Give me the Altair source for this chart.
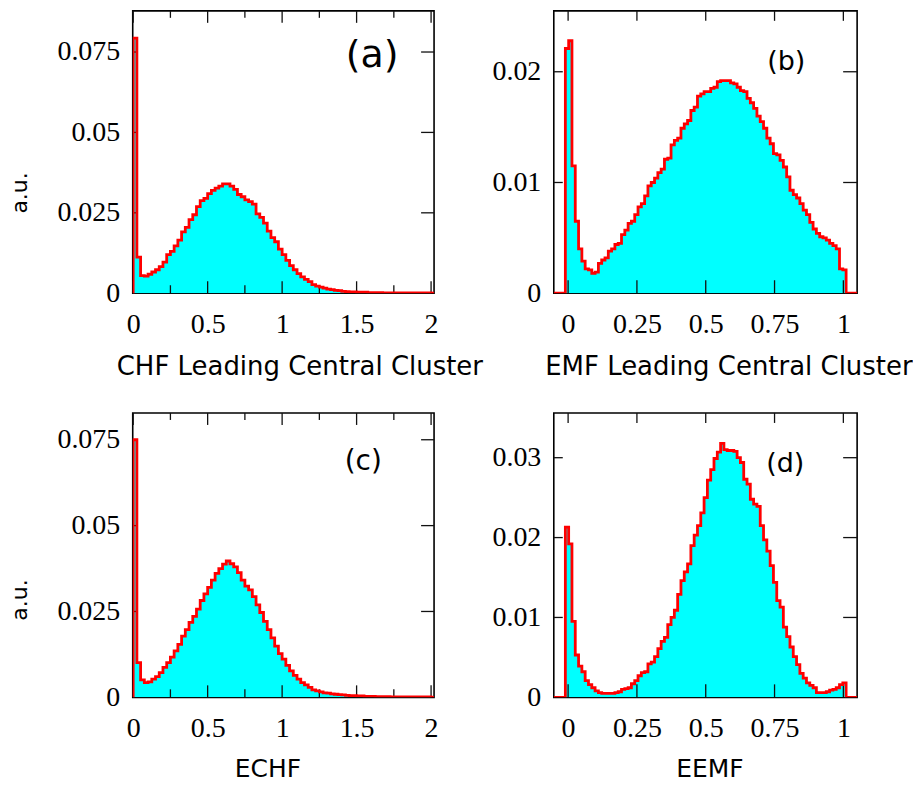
import altair as alt
import pandas as pd

# ---------------- data ----------------
# (a) CHF leading central cluster: 80 bins of 0.025 starting at 0
A_VALUES = [0.0793, 0.0112, 0.0055, 0.0053, 0.0059, 0.0066, 0.0073, 0.0083, 0.0097, 0.0120,
            0.0130, 0.0147, 0.0165, 0.0191, 0.0205, 0.0229, 0.0244, 0.0269, 0.0288, 0.0295,
            0.0310, 0.0320, 0.0327, 0.0333, 0.0340, 0.0340, 0.0333, 0.0323, 0.0307, 0.0300,
            0.0290, 0.0285, 0.0277, 0.0247, 0.0236, 0.0218, 0.0193, 0.0173, 0.0160, 0.0137,
            0.0120, 0.0102, 0.0086, 0.0073, 0.0061, 0.0051, 0.0043, 0.0036, 0.0027, 0.0022,
            0.0019, 0.0016, 0.0013, 0.0011, 0.0009, 0.0008, 0.0006, 0.0005, 0.0004, 0.0004,
            0.0003, 0.0003, 0.0003, 0.0002, 0.0002, 0.0002, 0.0002, 0.0001, 0.0001, 0.0001,
            0.0001, 0.0001, 0.0001, 0.0001, 0.0001, 0.0001, 0.0001, 0.0001, 0.0001, 0.0001]
# (b) EMF leading central cluster: 85 bins of 0.012 starting at -0.01
B_VALUES = [0.0221, 0.0228, 0.0115, 0.0065, 0.0040, 0.0029, 0.0022, 0.0021, 0.0018, 0.0019,
            0.0027, 0.0030, 0.0032, 0.0038, 0.0040, 0.0044, 0.0045, 0.0053, 0.0057, 0.0063,
            0.0065, 0.0071, 0.0078, 0.0081, 0.0088, 0.0097, 0.0100, 0.0104, 0.0109, 0.0112,
            0.0121, 0.0122, 0.0134, 0.0138, 0.0140, 0.0149, 0.0153, 0.0156, 0.0165, 0.0168,
            0.0178, 0.0180, 0.0182, 0.0182, 0.0185, 0.0186, 0.0191, 0.0192, 0.0192, 0.0192,
            0.0190, 0.0189, 0.0186, 0.0183, 0.0182, 0.0176, 0.0172, 0.0167, 0.0160, 0.0155,
            0.0149, 0.0140, 0.0135, 0.0126, 0.0125, 0.0120, 0.0114, 0.0105, 0.0093, 0.0089,
            0.0086, 0.0081, 0.0075, 0.0071, 0.0064, 0.0058, 0.0054, 0.0051, 0.0050, 0.0048,
            0.0045, 0.0043, 0.0040, 0.0022, 0.0021]
# (c) ECHF: 80 bins of 0.025 starting at 0
C_VALUES = [0.0750, 0.0101, 0.0051, 0.0043, 0.0045, 0.0053, 0.0060, 0.0072, 0.0087, 0.0101,
            0.0117, 0.0135, 0.0154, 0.0178, 0.0197, 0.0218, 0.0236, 0.0257, 0.0282, 0.0301,
            0.0320, 0.0341, 0.0361, 0.0375, 0.0388, 0.0397, 0.0389, 0.0380, 0.0363, 0.0341,
            0.0324, 0.0313, 0.0293, 0.0269, 0.0247, 0.0221, 0.0197, 0.0173, 0.0149, 0.0127,
            0.0111, 0.0093, 0.0077, 0.0064, 0.0053, 0.0043, 0.0036, 0.0029, 0.0022, 0.0019,
            0.0016, 0.0013, 0.0012, 0.0010, 0.0009, 0.0008, 0.0007, 0.0006, 0.0005, 0.0005,
            0.0004, 0.0004, 0.0003, 0.0003, 0.0003, 0.0002, 0.0002, 0.0002, 0.0002, 0.0001,
            0.0001, 0.0001, 0.0001, 0.0001, 0.0001, 0.0001, 0.0001, 0.0001, 0.0001, 0.0001]
# (d) EEMF: 85 bins of 0.012 starting at -0.01
D_VALUES = [0.0213, 0.0192, 0.0095, 0.0053, 0.0039, 0.0032, 0.0021, 0.0016, 0.0012, 0.0008,
            0.0006, 0.0005, 0.0005, 0.0005, 0.0005, 0.0006, 0.0007, 0.0010, 0.0011, 0.0012,
            0.0017, 0.0021, 0.0027, 0.0031, 0.0032, 0.0042, 0.0044, 0.0051, 0.0061, 0.0070,
            0.0075, 0.0091, 0.0100, 0.0109, 0.0129, 0.0146, 0.0157, 0.0167, 0.0190, 0.0203,
            0.0215, 0.0231, 0.0250, 0.0272, 0.0285, 0.0299, 0.0307, 0.0318, 0.0310, 0.0309,
            0.0309, 0.0308, 0.0300, 0.0294, 0.0273, 0.0267, 0.0248, 0.0242, 0.0239, 0.0215,
            0.0197, 0.0183, 0.0165, 0.0144, 0.0121, 0.0113, 0.0088, 0.0076, 0.0063, 0.0051,
            0.0041, 0.0030, 0.0024, 0.0018, 0.0015, 0.0012, 0.0006, 0.0006, 0.0006, 0.0007,
            0.0009, 0.0010, 0.0012, 0.0016, 0.0018]

BINS_AC = (0.0, 0.025)      # start, width
BINS_BD = (-0.01, 0.012)

X_TICKS_AC_MAJOR = [0, 0.5, 1, 1.5, 2]
X_TICKS_AC_MINOR = [0.25, 0.75, 1.25, 1.75]
X_TICKS_BD = [0, 0.25, 0.5, 0.75, 1]
Y_TICKS_A = [0.025, 0.05, 0.075]
Y_TICKS_B = [0.01, 0.02]
Y_TICKS_C = [0.025, 0.05, 0.075]
Y_TICKS_D = [0.01, 0.02, 0.03]

TITLES = ["CHF Leading Central Cluster", "EMF Leading Central Cluster", "ECHF", "EEMF"]
PANEL_LABELS = ["(a)", "(b)", "(c)", "(d)"]
Y_TITLE = "a.u."

SERIF = "Liberation Serif"
SANS = "DejaVu Sans"


def step_frame(values, start, width, xmin, xmax):
    xs = [xmin] + [start + width * i for i in range(len(values) + 1)] + [xmax]
    ys = [0.0] + list(values) + [0.0, 0.0]
    return pd.DataFrame({"x": xs, "y": ys})


def panel(values, bins, xdom, ydom, xmaj, xmin_ticks, yticks, W, H,
          xtitle, title_x, title_y, title_size, ytitle, ytitle_y, label, label_xy, label_size,
          left_len, right_len, bot_len, top_len, min_bot, min_top):
    xs = alt.Scale(domain=xdom, nice=False, zero=False)
    ys = alt.Scale(domain=ydom, nice=False, zero=False)
    df = step_frame(values, bins[0], bins[1], xdom[0], xdom[1])
    base = alt.Chart(df)
    xaxis = alt.Axis(values=xmaj, format=".3~g", ticks=False, domain=False, grid=False,
                     labelFont=SERIF, labelFontSize=28, labelColor="black",
                     labelPadding=17, labelFlush=False, labelOverlap=False,
                     title=xtitle, titleFont=SANS, titleFontSize=title_size, titleFontWeight="normal",
                     titleColor="black", titleX=title_x, titleY=title_y,
                     titleAlign="center", titleBaseline="middle")
    yargs = dict(values=[0] + yticks, format=".3~g", ticks=False, domain=False, grid=False,
                 labelFont=SERIF, labelFontSize=28, labelColor="black",
                 labelPadding=13, labelFlush=False, labelOverlap=False,
                 labelBaseline="middle")
    if ytitle:
        yargs.update(title=ytitle, titleFont=SANS, titleFontSize=22, titleFontWeight="normal",
                     titleColor="black", titleX=-113, titleY=ytitle_y, titleAngle=270,
                     titleAlign="center", titleBaseline="middle")
    else:
        yargs.update(title="")
    yaxis = alt.Axis(**yargs)

    area = base.mark_area(interpolate="step-after", color="#00FFFF", opacity=1, clip=True).encode(
        x=alt.X("x:Q", scale=xs, axis=xaxis),
        y=alt.Y("y:Q", scale=ys, axis=yaxis),
    )
    line = base.mark_line(interpolate="step-after", color="#FF0000", strokeWidth=2.8, clip=True).encode(
        x=alt.X("x:Q", scale=xs),
        y=alt.Y("y:Q", scale=ys),
    )
    layers = [area]

    def xt(vals, y0, y1):
        return alt.Chart(pd.DataFrame({"x": vals})).mark_rule(color="#111", strokeWidth=1.3).encode(
            x=alt.X("x:Q", scale=xs), y=alt.value(y0), y2=alt.value(y1))

    def yt(vals, x0, x1):
        return alt.Chart(pd.DataFrame({"y": vals})).mark_rule(color="#111", strokeWidth=1.3).encode(
            y=alt.Y("y:Q", scale=ys), x=alt.value(x0), x2=alt.value(x1))

    layers.append(xt(xmaj, H, H - bot_len))
    layers.append(xt(xmaj, 0, top_len))
    if xmin_ticks:
        layers.append(xt(xmin_ticks, H, H - min_bot))
        layers.append(xt(xmin_ticks, 0, min_top))
    layers.append(yt(yticks, 0, left_len))
    layers.append(yt(yticks, W, W - right_len))
    layers.append(line)
    txt = alt.Chart(pd.DataFrame({"t": [label]})).mark_text(
        font=SANS, fontSize=label_size, color="black", align="center", baseline="middle"
    ).encode(text="t:N", x=alt.value(label_xy[0]), y=alt.value(label_xy[1]))
    layers.append(txt)
    return alt.layer(*layers).properties(width=W, height=H)


HT = 283   # top row plot height
HB = 285   # bottom row plot height
pa = panel(A_VALUES, BINS_AC, [-0.003, 2.02], [0, 0.0878], X_TICKS_AC_MAJOR, X_TICKS_AC_MINOR,
           Y_TICKS_A, 302, HT, TITLES[0], 167, 73, 26, Y_TITLE, 182, PANEL_LABELS[0], (240, 45), 38,
           5, 13, 12, 12, 8, 7)
pb = panel(B_VALUES, BINS_BD, [-0.052, 1.05], [0, 0.0255], X_TICKS_BD, [],
           Y_TICKS_B, 304, HT, TITLES[1], 175, 73, 26, "", 0, PANEL_LABELS[1], (233, 51), 27,
           9, 14, 13, 10, 0, 0)
pc = panel(C_VALUES, BINS_AC, [-0.003, 2.02], [0, 0.0828], X_TICKS_AC_MAJOR, X_TICKS_AC_MINOR,
           Y_TICKS_C, 302, HB, TITLES[2], 135, 71, 25, Y_TITLE, 187, PANEL_LABELS[2], (231, 49), 28,
           5, 13, 12, 12, 8, 7)
pd_ = panel(D_VALUES, BINS_BD, [-0.052, 1.05], [0, 0.0356], X_TICKS_BD, [],
            Y_TICKS_D, 304, HB, TITLES[3], 156, 71, 25, "", 0, PANEL_LABELS[3], (232, 51), 27,
            9, 14, 13, 10, 0, 0)

chart = alt.concat(pa, pb, pc, pd_, columns=2, spacing={"row": 120, "column": 120},
                   bounds="flush", align="each").properties(
    padding={"left": 0, "top": 0, "right": 0, "bottom": 0}
).configure_view(stroke="black", strokeWidth=1.6)

chart.save("out.html", embed_options={"renderer": "svg", "actions": False})
